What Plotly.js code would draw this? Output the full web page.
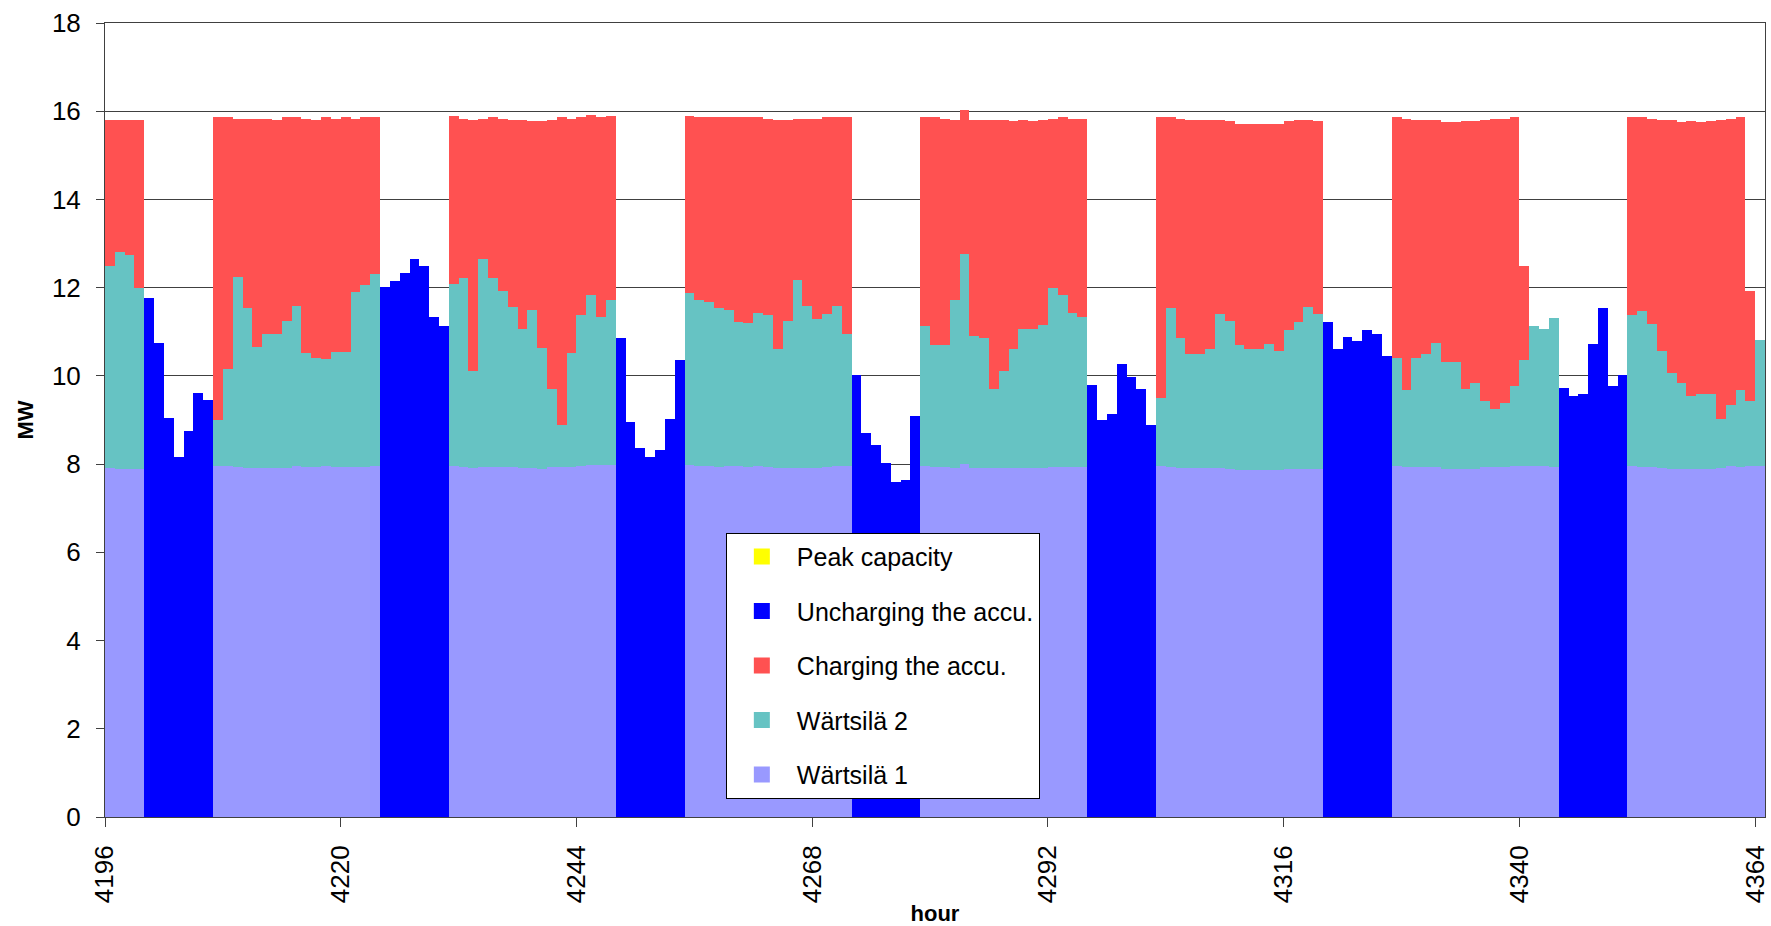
<!DOCTYPE html>
<html>
<head>
<meta charset="utf-8">
<script src="https://cdn.plot.ly/plotly-3.0.1.min.js"></script>
<style>
html,body{margin:0;padding:0;background:#fff;}
#chart{width:1771px;height:926px;}
</style>
</head>
<body>
<div id="chart"></div>
<script>
// hours 4196..4364 (one bar per hour)
const firstHour = 4196;
const lastHour = 4364;
const hours = [];
for (let h = firstHour; h <= lastHour; h++) hours.push(h);

const xTickValues = [4196, 4220, 4244, 4268, 4292, 4316, 4340, 4364];

const wartsila1 = [
7.91,7.90,7.90,7.90, 0,0,0,0,0,0,0,
7.95,7.95,7.93,7.91,7.92,7.92,7.92,7.92,7.95,7.93,7.93,7.95,7.93,7.93,7.93,7.93,7.95, 0,0,0,0,0,0,0,
7.95,7.93,7.91,7.93,7.93,7.93,7.93,7.91,7.91,7.88,7.93,7.93,7.93,7.95,7.97,7.97,7.97, 0,0,0,0,0,0,0,
7.97,7.95,7.95,7.93,7.95,7.95,7.93,7.95,7.93,7.91,7.91,7.91,7.91,7.91,7.93,7.95,7.95, 0,0,0,0,0,0,0,
7.95,7.93,7.93,7.91,8.01,7.91,7.91,7.91,7.91,7.91,7.91,7.91,7.91,7.93,7.93,7.93,7.93, 0,0,0,0,0,0,0,
7.95,7.93,7.91,7.91,7.91,7.91,7.91,7.88,7.86,7.86,7.86,7.86,7.86,7.88,7.90,7.90,7.88, 0,0,0,0,0,0,0,
7.95,7.93,7.93,7.93,7.93,7.88,7.88,7.88,7.88,7.93,7.93,7.93,7.95,7.95,7.95,7.95,7.93, 0,0,0,0,0,0,0,
7.95,7.93,7.93,7.91,7.88,7.88,7.88,7.88,7.88,7.91,7.95,7.93,7.95,7.95
];

const wartsila2 = [
4.59,4.92,4.85,4.09, 0,0,0,0,0,0,0,
1.06,2.21,4.32,3.64,2.74,3.02,3.02,3.33,3.64,2.60,2.48,2.44,2.62,2.62,3.98,4.14,4.37, 0,0,0,0,0,0,0,
4.14,4.30,2.19,4.71,4.30,4.00,3.64,3.16,3.59,2.76,1.78,0.96,2.60,3.44,3.87,3.37,3.74, 0,0,0,0,0,0,0,
3.90,3.78,3.73,3.60,3.55,3.28,3.28,3.48,3.46,2.71,3.34,4.27,3.68,3.39,3.48,3.64,2.99, 0,0,0,0,0,0,0,
3.17,2.78,2.76,3.82,4.76,3.00,2.94,1.80,2.19,2.69,3.16,3.16,3.25,4.07,3.91,3.50,3.41, 0,0,0,0,0,0,0,
1.56,3.60,2.96,2.59,2.59,2.69,3.50,3.37,2.83,2.74,2.74,2.87,2.71,3.17,3.33,3.67,3.53, 0,0,0,0,0,0,0,
2.46,1.76,2.48,2.57,2.82,2.44,2.44,1.83,1.97,1.51,1.33,1.46,1.83,2.42,3.17,3.12,3.39, 0,0,0,0,0,0,0,
3.44,3.55,3.25,2.66,2.19,1.97,1.67,1.70,1.72,1.12,1.38,1.76,1.47,2.87
];

const chargingAccu = [
3.31,2.98,3.06,3.80, 0,0,0,0,0,0,0,
6.87,5.70,3.58,4.28,5.17,4.89,4.87,4.61,4.29,5.30,5.40,5.47,5.28,5.31,3.92,3.79,3.54, 0,0,0,0,0,0,0,
3.81,3.60,5.69,3.19,3.63,3.90,4.24,4.72,4.27,5.13,6.10,6.97,5.30,4.47,4.08,4.54,4.19, 0,0,0,0,0,0,0,
4.03,4.15,4.20,4.33,4.36,4.63,4.65,4.45,4.44,5.17,4.54,3.65,4.24,4.53,4.47,4.29,4.92, 0,0,0,0,0,0,0,
4.76,5.15,5.14,4.08,3.25,4.90,4.94,6.08,5.69,5.17,4.72,4.70,4.63,3.83,4.02,4.40,4.49, 0,0,0,0,0,0,0,
6.37,4.33,4.96,5.31,5.31,5.19,4.38,4.52,5.01,5.12,5.12,4.99,5.15,4.72,4.56,4.22,4.36, 0,0,0,0,0,0,0,
5.45,6.14,5.40,5.31,5.04,5.43,5.43,6.06,5.92,6.37,6.57,6.44,6.08,2.13,0,0,0, 0,0,0,0,0,0,0,
4.49,4.38,4.65,5.22,5.72,5.90,6.22,6.17,6.17,6.76,6.50,6.17,2.51,0
];

const unchargingAccu = [
0,0,0,0, 11.77,10.75,9.05,8.17,8.74,9.62,9.46,
0,0,0,0,0,0,0,0,0,0,0,0,0,0,0,0,0, 12.02,12.16,12.34,12.66,12.50,11.34,11.12,
0,0,0,0,0,0,0,0,0,0,0,0,0,0,0,0,0, 10.85,8.96,8.37,8.17,8.33,9.03,10.35,
0,0,0,0,0,0,0,0,0,0,0,0,0,0,0,0,0, 10.01,8.71,8.44,8.03,7.60,7.65,9.08,
0,0,0,0,0,0,0,0,0,0,0,0,0,0,0,0,0, 9.80,9.01,9.14,10.28,9.98,9.71,8.89,
0,0,0,0,0,0,0,0,0,0,0,0,0,0,0,0,0, 11.23,10.60,10.89,10.78,11.03,10.94,10.44,
0,0,0,0,0,0,0,0,0,0,0,0,0,0,0,0,0, 9.73,9.55,9.58,10.73,11.55,9.76,10.01,
0,0,0,0,0,0,0,0,0,0,0,0,0,0
];

const peakCapacity = hours.map(() => 0);

const seriesNames = ['Wärtsilä 1', 'Wärtsilä 2', 'Charging the accu.', 'Uncharging the accu.', 'Peak capacity'];
const seriesColors = ['#9999FF', '#66C3C3', '#FF5151', '#0000FF', '#FFFF00'];
const seriesValues = [wartsila1, wartsila2, chargingAccu, unchargingAccu, peakCapacity];

// the stacked bars (bottom to top)
const barTraces = seriesValues.map((vals, i) => ({
  type: 'bar',
  name: seriesNames[i],
  x: hours,
  y: vals,
  offset: 0,
  width: 1,
  showlegend: false,
  legendgroup: 'g' + i,
  marker: {color: seriesColors[i], line: {width: 0}},
  hoverinfo: 'x+y+name'
}));

// legend entries with larger square keys (no data drawn)
const legendTraces = seriesNames.map((name, i) => ({
  type: 'scatter',
  mode: 'markers',
  name: name,
  x: [null],
  y: [null],
  legendgroup: 'g' + i,
  legendrank: 100 - i,
  showlegend: true,
  marker: {symbol: 'square', size: 17, color: seriesColors[i], line: {width: 0}},
  hoverinfo: 'skip'
}));

const fontFam = '"Liberation Sans", Arial, "DejaVu Sans", sans-serif';

const layout = {
  width: 1771,
  height: 926,
  barmode: 'stack',
  bargap: 0,
  paper_bgcolor: '#ffffff',
  plot_bgcolor: '#ffffff',
  font: {family: fontFam, color: '#000000', size: 24},
  margin: {l: 105, r: 6, t: 23, b: 109, pad: 0},
  showlegend: true,
  legend: {
    x: 0.374, y: 0.358, xanchor: 'left', yanchor: 'top',
    bgcolor: '#ffffff', bordercolor: '#000000', borderwidth: 1,
    font: {family: fontFam, size: 25, color: '#000000'},
    traceorder: 'grouped',
    tracegroupgap: 19,
    itemwidth: 60
  },
  xaxis: {
    range: [4196, 4365],
    tickmode: 'array',
    tickvals: xTickValues,
    ticktext: xTickValues.map(String),
    tickangle: -90,
    ticks: 'outside',
    ticklen: 9,
    tickwidth: 1,
    tickcolor: '#404040',
    ticklabelstandoff: 8,
    tickfont: {family: fontFam, size: 26, color: '#000000'},
    showgrid: false,
    zeroline: false,
    showline: true,
    linecolor: '#404040',
    linewidth: 1,
    mirror: true,
    title: {text: 'hour', font: {family: fontFam, size: 22, color: '#000000', weight: 'bold'}, standoff: 4},
    fixedrange: true
  },
  yaxis: {
    range: [0, 18],
    tickmode: 'linear',
    tick0: 0,
    dtick: 2,
    ticks: 'outside',
    ticklen: 8,
    tickwidth: 1,
    tickcolor: '#404040',
    ticklabelstandoff: 10,
    tickfont: {family: fontFam, size: 26, color: '#000000'},
    showgrid: true,
    gridcolor: '#404040',
    gridwidth: 1,
    zeroline: false,
    showline: true,
    linecolor: '#404040',
    linewidth: 1,
    mirror: true,
    title: {text: 'MW', font: {family: fontFam, size: 22, color: '#000000', weight: 'bold'}, standoff: 12},
    fixedrange: true
  }
};

Plotly.newPlot('chart', barTraces.concat(legendTraces), layout, {staticPlot: true, displayModeBar: false});
</script>
</body>
</html>
